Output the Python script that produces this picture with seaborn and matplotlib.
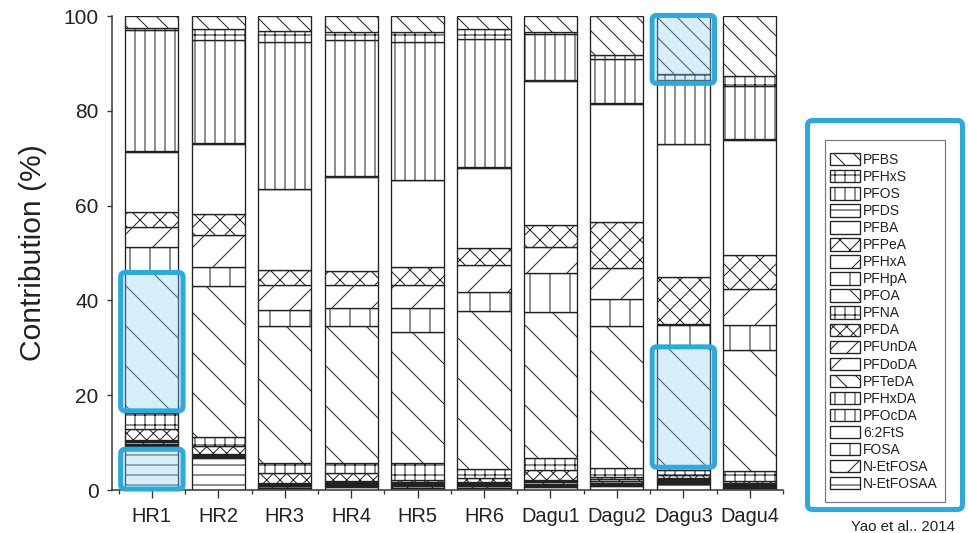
import numpy as np
import pandas as pd
import matplotlib
matplotlib.use('Agg')
import matplotlib.pyplot as plt
from matplotlib.patches import Patch, FancyBboxPatch, Rectangle
from matplotlib.transforms import IdentityTransform
import seaborn as sns

# --- Data (contribution %, stacked bottom -> top) ---
sites = ['HR1', 'HR2', 'HR3', 'HR4', 'HR5', 'HR6', 'Dagu1', 'Dagu2', 'Dagu3', 'Dagu4']

n_etfosaa = [8.6, 6.7, 0.5, 0.6, 0.5, 0.5, 0.6, 0.8, 1.2, 0.4]
n_etfosa = [0.4, 0.3, 0.3, 0.3, 0.3, 0.3, 0.3, 0.3, 0.3, 0.2]
fosa = [0.2, 0.0, 0.0, 0.1, 0.1, 0.1, 0.1, 0.1, 0.1, 0.1]
ftS_62 = [0.2, 0.0, 0.0, 0.1, 0.1, 0.1, 0.1, 0.1, 0.1, 0.1]
pfocda = [0.2, 0.0, 0.1, 0.1, 0.1, 0.1, 0.1, 0.1, 0.1, 0.1]
pfhxda = [0.2, 0.1, 0.1, 0.1, 0.1, 0.1, 0.1, 0.1, 0.1, 0.1]
pfteda = [0.3, 0.2, 0.2, 0.2, 0.2, 0.2, 0.3, 0.3, 0.2, 0.1]
pfdoda = [0.2, 0.1, 0.1, 0.1, 0.1, 0.1, 0.2, 0.2, 0.2, 0.1]
pfunda = [0.2, 0.1, 0.2, 0.2, 0.2, 0.2, 0.3, 0.3, 0.3, 0.2]
pfda = [2.3, 1.8, 2.1, 1.8, 0.4, 0.8, 2.1, 0.5, 0.6, 0.6]
pfna = [3.4, 1.8, 2.1, 2.1, 3.5, 2.0, 2.5, 1.8, 1.0, 2.1]
pfoa = [29.7, 32.0, 28.8, 28.8, 27.8, 33.3, 30.9, 29.9, 26.0, 25.4]
pfhpa = [5.3, 3.9, 3.5, 3.9, 4.9, 4.0, 8.1, 5.8, 4.6, 5.3]
pfhxa = [4.2, 6.7, 5.3, 4.9, 4.9, 5.6, 5.6, 6.5, 0.3, 7.7]
pfpea = [3.2, 4.6, 3.2, 2.8, 3.9, 3.6, 4.6, 9.8, 9.9, 7.0]
pfba = [12.7, 14.8, 16.9, 20.0, 18.3, 17.0, 30.4, 24.8, 27.9, 24.4]
pfds = [0.3, 0.2, 0.1, 0.1, 0.1, 0.1, 0.2, 0.3, 0.2, 0.2]
pfos = [25.4, 21.6, 31.1, 28.7, 29.1, 27.1, 9.6, 9.3, 13.5, 11.1]
pfhxs = [0.4, 2.4, 2.2, 1.8, 2.1, 2.0, 0.5, 0.8, 1.1, 2.1]
pfbs = [2.6, 2.7, 3.2, 3.3, 3.3, 2.8, 3.4, 8.2, 12.3, 12.7]

compounds = ['N-EtFOSAA', 'N-EtFOSA', 'FOSA', '6:2FtS', 'PFOcDA', 'PFHxDA', 'PFTeDA',
             'PFDoDA', 'PFUnDA', 'PFDA', 'PFNA', 'PFOA', 'PFHpA', 'PFHxA', 'PFPeA',
             'PFBA', 'PFDS', 'PFOS', 'PFHxS', 'PFBS']
series = [n_etfosaa, n_etfosa, fosa, ftS_62, pfocda, pfhxda, pfteda, pfdoda, pfunda,
          pfda, pfna, pfoa, pfhpa, pfhxa, pfpea, pfba, pfds, pfos, pfhxs, pfbs]

# segments highlighted in the source figure: (site, lowest compound, highest compound, pad)
highlights = [('HR1', 'N-EtFOSAA', 'N-EtFOSAA', -0.2), ('HR1', 'PFOA', 'PFOA', -0.5),
              ('Dagu3', 'PFHxS', 'PFBS', 0.8), ('Dagu3', 'PFOA', 'PFOA', -0.6)]

# --- Styles ---
hatches = {
    'N-EtFOSAA': '--', 'N-EtFOSA': 'x', 'FOSA': '|', '6:2FtS': '', 'PFOcDA': '||',
    'PFHxDA': '||', 'PFTeDA': '\\\\', 'PFDoDA': '/', 'PFUnDA': '//', 'PFDA': 'xxx',
    'PFNA': '++', 'PFOA': '\\', 'PFHpA': '|', 'PFHxA': '/', 'PFPeA': 'xx', 'PFBA': '',
    'PFDS': '-', 'PFOS': '||', 'PFHxS': '++', 'PFBS': '\\\\',
}
EDGE = '#222222'
BLUE = '#29abe2'
DPI = 120
W, H = 969, 533

sns.set_style('ticks')
plt.rcParams['font.family'] = ['Liberation Sans', 'DejaVu Sans']
plt.rcParams['hatch.linewidth'] = 0.6
plt.rcParams['text.color'] = '#222222'

wide = pd.DataFrame(dict(zip(compounds, series)), index=sites)
bottoms = wide.cumsum(axis=1) - wide

fig = plt.figure(figsize=(W / DPI, H / DPI), dpi=DPI)
ax = fig.add_axes([112 / W, 1 - 490 / H, (783 - 112) / W, (490 - 16) / H])

for name in compounds:
    sns.barplot(x=sites, y=wide[name].values, order=sites, bottom=bottoms[name].values,
                color='white', saturation=1, edgecolor=EDGE, linewidth=0.8,
                hatch=hatches[name], width=0.8, errorbar=None, ax=ax)

ax.set_xlim(-0.6, 9.5)
ax.set_ylim(0, 100)
ax.set_yticks(np.arange(0, 101, 20))
ax.set_xticks(np.arange(-0.5, 10, 1), minor=True)
ax.set_xlabel('')
ax.set_ylabel('Contribution (%)', fontsize=18, labelpad=10, color='#222222')
sns.despine(ax=ax)
for s in ['left', 'bottom']:
    ax.spines[s].set_color('#333333')
    ax.spines[s].set_linewidth(0.9)
ax.tick_params(axis='x', which='major', length=5, width=0.8, pad=5.5, labelsize=12,
               colors='#333333', labelcolor='#222222')
ax.tick_params(axis='x', which='minor', length=2.5, width=0.8, colors='#333333')
ax.tick_params(axis='y', which='major', length=3, width=0.8, pad=5, labelsize=12.5,
               colors='#333333', labelcolor='#222222')

# blue highlight boxes around selected segments
sx = ax.transData.transform((1, 0))[0] - ax.transData.transform((0, 0))[0]
sy = ax.transData.transform((0, 1))[1] - ax.transData.transform((0, 0))[1]
for site, low, high, pad in highlights:
    i = sites.index(site)
    y0 = bottoms.loc[site, low] - pad
    y1 = bottoms.loc[site, high] + wide.loc[site, high] + max(pad, 0) * 0.15
    box = FancyBboxPatch((i - 0.47, y0), 0.94, y1 - y0,
                         boxstyle='round,pad=0,rounding_size=0.07',
                         mutation_aspect=sx / sy, facecolor=(0.56, 0.80, 0.92, 0.35),
                         edgecolor=BLUE, linewidth=3, zorder=5, clip_on=False)
    ax.add_patch(box)

# legend: frameless entries + drawn frame
handles = [Patch(facecolor='white', edgecolor=EDGE, hatch=hatches[n], linewidth=0.8, label=n)
           for n in reversed(compounds)]
leg = fig.legend(handles=handles, loc='upper left', bbox_to_anchor=(830 / W, 1 - 153 / H),
                 fontsize=8.3, frameon=False, handlelength=2.15, handleheight=1.0,
                 handletextpad=0.25, labelspacing=0.22, borderpad=0, borderaxespad=0)

fig.add_artist(Rectangle((825, H - 502), 945 - 825, 502 - 140, facecolor='none',
                         edgecolor='#777777', linewidth=0.7, transform=IdentityTransform()))
fig.add_artist(FancyBboxPatch((807.5, H - 509.5), 962.5 - 807.5, 509.5 - 120.5,
                              boxstyle='round,pad=0,rounding_size=5', facecolor='none',
                              edgecolor=BLUE, linewidth=3, transform=IdentityTransform()))

fig.text(955 / W, 1 - 527 / H, 'Yao et al.. 2014', ha='right', va='center', fontsize=9)

fig.savefig('out.png', dpi=DPI)
